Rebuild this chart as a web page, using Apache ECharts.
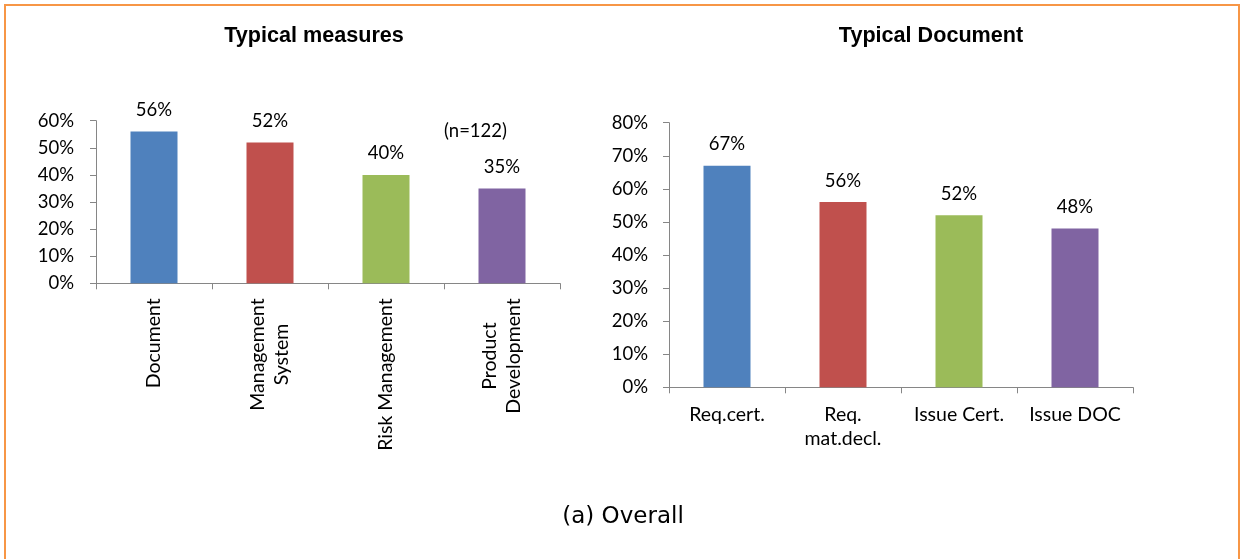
<!DOCTYPE html>
<html>
<head>
<meta charset="utf-8">
<script src="https://cdn.jsdelivr.net/npm/echarts@6/dist/echarts.min.js"></script>
<style>
html,body{margin:0;padding:0;background:#fff;}
#chart{width:1240px;height:559px;}
</style>
</head>
<body>
<div id="chart"></div>
<script>
// ---- data ----
const measuresCategories = ['Document', 'Management\nSystem', 'Risk Management', 'Product\nDevelopment'];
const measuresValues = [56, 52, 40, 35];
const documentCategories = ['Req.cert.', 'Req.\nmat.decl.', 'Issue Cert.', 'Issue DOC'];
const documentValues = [67, 56, 52, 48];
const barColors = ['#4F81BD', '#C0504D', '#9BBB59', '#8064A2'];
const leftTitle = 'Typical measures';
const rightTitle = 'Typical Document';
const sampleNote = '(n=122)';
const caption = '(a) Overall';

const FONT = 'Lato';
const AXIS_COLOR = '#868686';

function pct(v) { return v + '%'; }
function wrapRich(s) { return s.split('\n').map(l => '{c|' + l + '}').join('\n'); }

const chart = echarts.init(document.getElementById('chart'), null, {renderer: 'canvas'});

const axisCommon = {
  axisLine: {show: true, lineStyle: {color: AXIS_COLOR, width: 1}},
  axisTick: {show: true, length: 6, lineStyle: {color: AXIS_COLOR}},
  splitLine: {show: false}
};

const option = {
  animation: false,
  backgroundColor: '#ffffff',
  title: [
    {text: leftTitle, left: 314, top: 25, textAlign: 'center', padding: 0,
     textStyle: {fontFamily: 'Liberation Sans', fontWeight: 'bold', fontSize: 21.6, color: '#000', lineHeight: 22}},
    {text: rightTitle, left: 931, top: 25, textAlign: 'center', padding: 0,
     textStyle: {fontFamily: 'Liberation Sans', fontWeight: 'bold', fontSize: 21.6, color: '#000', lineHeight: 22}}
  ],
  grid: [
    {left: 96, width: 464, top: 120.7, height: 162.6, containLabel: false},
    {left: 669, width: 464, top: 122.7, height: 264.6, containLabel: false}
  ],
  xAxis: [
    Object.assign({}, axisCommon, {
      type: 'category', gridIndex: 0, data: measuresCategories,
      axisLabel: {
        rotate: 90, margin: 15, interval: 0,
        formatter: wrapRich,
        rich: {c: {align: 'center', fontFamily: FONT, fontSize: 19.5, color: '#000', lineHeight: 24}}
      }
    }),
    Object.assign({}, axisCommon, {
      type: 'category', gridIndex: 1, data: documentCategories,
      axisLabel: {
        margin: 15, interval: 0,
        formatter: wrapRich,
        rich: {c: {align: 'center', fontFamily: FONT, fontSize: 19.5, color: '#000', lineHeight: 24}}
      }
    })
  ],
  yAxis: [
    Object.assign({}, axisCommon, {
      type: 'value', gridIndex: 0, min: 0, max: 60, interval: 10,
      axisLabel: {formatter: pct, margin: 22, fontFamily: FONT, fontSize: 18.5, color: '#000'}
    }),
    Object.assign({}, axisCommon, {
      type: 'value', gridIndex: 1, min: 0, max: 80, interval: 10,
      axisLabel: {formatter: pct, margin: 21, fontFamily: FONT, fontSize: 18.5, color: '#000'}
    })
  ],
  series: [
    {
      type: 'bar', xAxisIndex: 0, yAxisIndex: 0, barWidth: 47,
      data: measuresValues.map((v, i) => ({value: v, itemStyle: {color: barColors[i]}})),
      label: {show: true, position: 'top', distance: 12, formatter: p => pct(p.value),
              fontFamily: FONT, fontSize: 18.5, color: '#000'}
    },
    {
      type: 'bar', xAxisIndex: 1, yAxisIndex: 1, barWidth: 47,
      data: documentValues.map((v, i) => ({value: v, itemStyle: {color: barColors[i]}})),
      label: {show: true, position: 'top', distance: 12, formatter: p => pct(p.value),
              fontFamily: FONT, fontSize: 18.5, color: '#000'}
    }
  ],
  graphic: [
    {type: 'rect', shape: {x: 5, y: 5, width: 1234, height: 600}, silent: true, z: 0,
     style: {fill: 'none', stroke: '#F79646', lineWidth: 2}},
    {type: 'text', x: 475.5, y: 131, silent: true,
     style: {text: sampleNote, fontFamily: FONT, fontSize: 18.5, fill: '#000', align: 'center', verticalAlign: 'middle'}},
    {type: 'text', x: 623, y: 517, silent: true,
     style: {text: caption, fontFamily: 'DejaVu Sans', fontSize: 23, fill: '#000', align: 'center', verticalAlign: 'middle'}}
  ]
};

chart.setOption(option);
</script>
</body>
</html>
